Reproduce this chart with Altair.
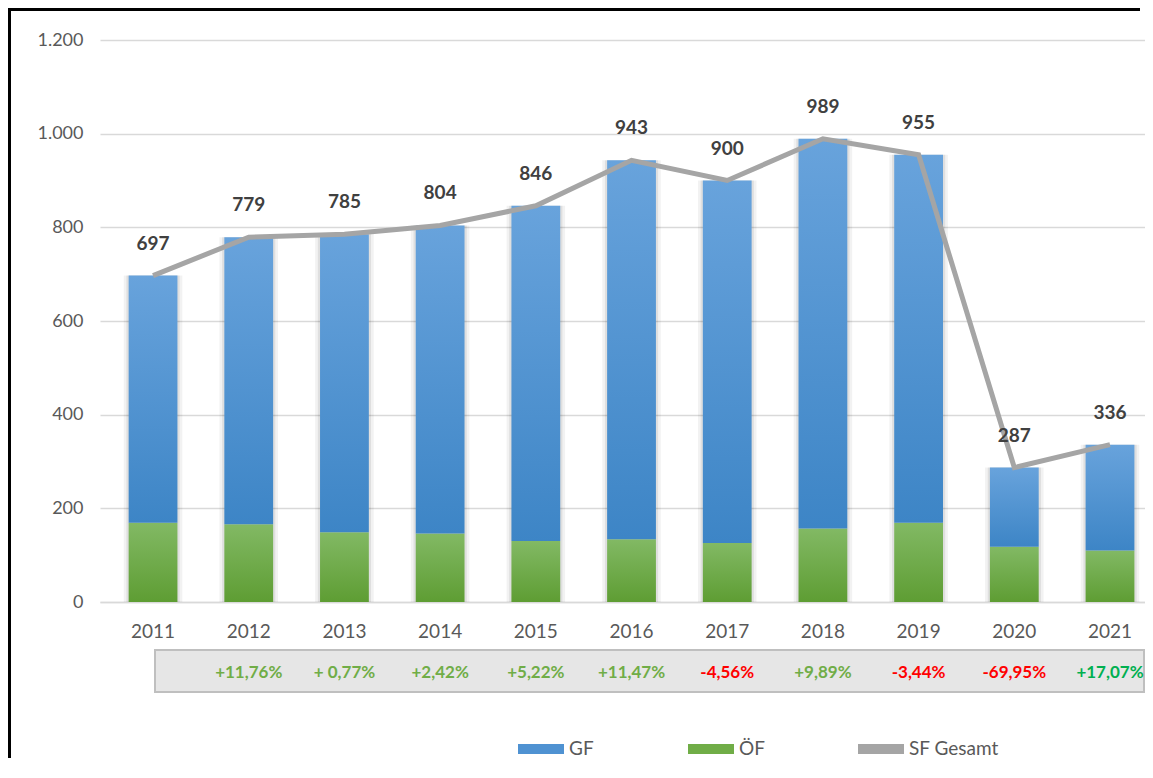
import altair as alt
import pandas as pd

# ---- data ----
years = ["2011", "2012", "2013", "2014", "2015", "2016", "2017", "2018", "2019", "2020", "2021"]
sf_total = [697, 779, 785, 804, 846, 943, 900, 989, 955, 287, 336]
oef = [169, 166, 149, 146, 130, 134, 126, 157, 169, 118, 110]
pct_years = ["2012", "2013", "2014", "2015", "2016", "2017", "2018", "2019", "2020", "2021"]
pct_labels = ["+11,76%", "+ 0,77%", "+2,42%", "+5,22%", "+11,47%", "-4,56%", "+9,89%", "-3,44%", "-69,95%", "+17,07%"]
series_names = ["GF", "ÖF", "SF Gesamt"]

FONT = "Lato"
BLUE, GREEN, GRAY = "#4f92d2", "#70ad47", "#a5a5a5"

df = pd.DataFrame({"year": years, "total": sf_total, "oef": oef})
df["series"] = "SF Gesamt"

pct = pd.DataFrame({"year": pct_years, "label": pct_labels})
pct["tone"] = [
    "#ff0000" if s.startswith("-") else ("#00b050" if y == "2021" else "#70ad47")
    for s, y in zip(pct_labels, pct_years)
]

xscale = alt.Scale(domain=years, paddingInner=0.49, paddingOuter=0.205, align=0.73)
x_main = alt.X(
    "year:N", scale=xscale, title=None,
    axis=alt.Axis(labelAngle=0, labelFont=FONT, labelFontSize=19, labelColor="#595959",
                  labelPadding=20, ticks=False, domainColor="#d9d9d9", domainWidth=1.5,
                  grid=False),
)
x_plain = alt.X("year:N")

blue_grad = alt.Gradient(
    gradient="linear",
    stops=[alt.GradientStop(color="#68a3dc", offset=0), alt.GradientStop(color="#3d85c6", offset=1)],
    x1=1, x2=1, y1=0, y2=1,
)
green_grad = alt.Gradient(
    gradient="linear",
    stops=[alt.GradientStop(color="#82b964", offset=0), alt.GradientStop(color="#5e9d33", offset=1)],
    x1=1, x2=1, y1=0, y2=1,
)

yscale = alt.Scale(domain=[0, 1200], nice=False)
y_axis = alt.Axis(
    values=[0, 200, 400, 600, 800, 1000, 1200], title=None, domain=False, ticks=False,
    labelFont=FONT, labelFontSize=18, labelColor="#595959", labelPadding=17,
    gridColor="#d9d9d9", gridWidth=1.5,
    labelExpr="replace(format(datum.value, ','), ',', '.')",
)

# soft shadow behind the stacked bars
shadow_outer = alt.Chart(df).mark_bar(
    color="#000000", opacity=0.05, width=alt.RelativeBandSize(band=1.2)
).encode(x=x_main, y=alt.Y("total:Q", scale=yscale, axis=y_axis))
shadow_inner = alt.Chart(df).mark_bar(
    color="#000000", opacity=0.08, width=alt.RelativeBandSize(band=1.09)
).encode(x=x_plain, y=alt.Y("total:Q"))

oef_bars = alt.Chart(df).mark_bar(color=green_grad).encode(
    x=x_plain,
    y=alt.Y("oef:Q"),
)
gf_bars = alt.Chart(df).mark_bar(color=blue_grad).encode(
    x=x_plain,
    y=alt.Y("total:Q"),
    y2=alt.Y2("oef:Q"),
)

line = alt.Chart(df).mark_line(strokeWidth=5).encode(
    x=x_plain,
    y=alt.Y("total:Q"),
    color=alt.Color(
        "series:N",
        scale=alt.Scale(domain=series_names, range=[BLUE, GREEN, GRAY]),
        legend=alt.Legend(
            title=None, orient="none", direction="horizontal", legendX=413, legendY=681,
            columns=3, gridAlign="all", columnPadding=9,
            symbolType="M-1,0H1", symbolSize=2116, symbolStrokeWidth=10,
            labelFont=FONT, labelFontSize=19, labelColor="#595959", labelOffset=0,
        ),
    ),
)

labels = alt.Chart(df).mark_text(
    dy=-32, font=FONT, fontSize=19, fontWeight="bold", color="#404040", baseline="middle"
).encode(x=x_plain, y=alt.Y("total:Q"), text=alt.Text("total:Q"))

box = alt.Chart(pd.DataFrame({"a": [0]})).mark_rect(
    fill="#e6e6e6", stroke="#bfbfbf", strokeWidth=2
).encode(x=alt.value(55), x2=alt.value(1044), y=alt.value(610), y2=alt.value(652))

pct_text = alt.Chart(pct).mark_text(
    font=FONT, fontSize=17, fontWeight="bold", baseline="middle"
).encode(
    x=x_plain, y=alt.value(633), text="label:N", color=alt.Color("tone:N", scale=None)
)

# outer frame (left and top edge, as in the reference crop) as thin filled rects
frame_left = alt.Chart(pd.DataFrame({"a": [0]})).mark_rect(color="black").encode(
    x=alt.value(-92), x2=alt.value(-89), y=alt.value(-32), y2=alt.value(718)
)
frame_top = alt.Chart(pd.DataFrame({"a": [0]})).mark_rect(color="black").encode(
    x=alt.value(-92), x2=alt.value(1040), y=alt.value(-32), y2=alt.value(-29)
)

chart = alt.layer(
    shadow_outer, shadow_inner, oef_bars, gf_bars, line, labels, box, pct_text,
    frame_left, frame_top
).properties(
    width=1045, height=562,
    autosize=alt.AutoSizeParams(type="none"),
    padding={"left": 92, "top": 32, "right": 0, "bottom": 160},
).configure_view(stroke=None)

chart.save("out.html", embed_options={"renderer": "svg", "actions": False})
